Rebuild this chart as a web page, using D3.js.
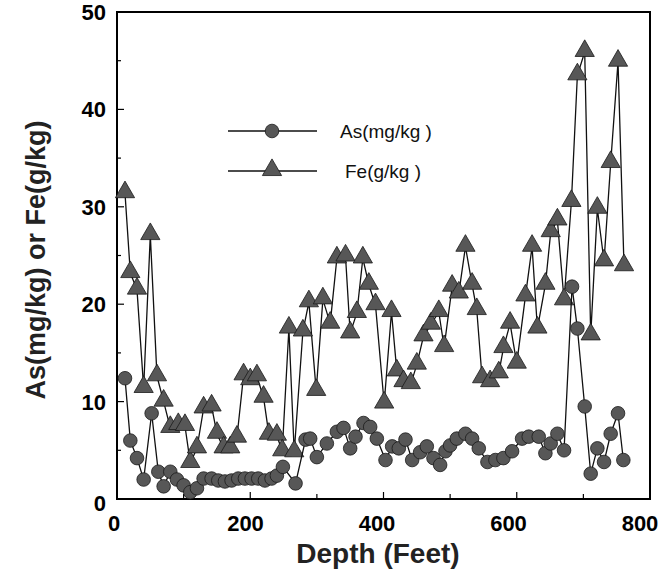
<!DOCTYPE html>
<html><head><meta charset="utf-8">
<script src="https://cdn.jsdelivr.net/npm/d3@7/dist/d3.min.js"></script>
<style>body{margin:0;background:#fff}svg{display:block}</style>
</head><body><svg id="c" width="659" height="575"></svg>
<script>
const feDepth = [12,20,30,40,50,60,70,80,92,102,110,120,130,142,150,160,170,180,190,200,210,220,228,240,248,258,266,279,288,299,309,320,330,343,350,360,369,378,388,401,412,420,430,441,450,460,471,483,491,503,513,523,533,540,548,560,573,580,590,600,613,623,631,643,651,661,671,682,691,702,711,721,731,741,752,761];
const feValues = [31.4,23.2,21.5,11.4,27.1,12.6,10.0,7.3,7.6,7.5,3.7,5.2,9.3,9.5,6.7,5.2,5.2,6.3,12.7,12.2,12.6,10.4,6.6,6.5,4.9,17.5,4.8,17.2,20.2,11.1,20.5,18.0,24.7,24.9,17.0,19.1,24.7,22.0,19.9,9.8,19.2,13.1,12.0,11.8,13.8,16.7,17.9,19.2,15.6,21.8,21.1,25.9,22.0,19.4,12.4,12.0,12.9,15.5,18.0,13.9,20.8,25.9,17.5,22.0,27.4,28.6,20.4,30.5,43.5,45.9,16.8,29.8,24.4,34.5,44.9,23.9];
const asDepth = [12,20,30,40,52,62,70,80,90,100,110,120,130,142,152,162,172,182,192,202,212,222,232,240,249,268,283,290,300,315,330,340,350,358,370,380,390,403,413,423,433,443,455,465,475,485,493,500,510,523,533,543,556,568,580,593,608,618,633,643,651,661,671,683,691,702,711,721,731,741,752,760];
const asValues = [12.4,6.0,4.2,2.0,8.8,2.8,1.3,2.8,2.0,1.4,0.7,1.1,2.1,2.1,1.9,1.8,1.9,2.1,2.1,2.1,2.1,1.9,2.1,2.4,3.3,1.6,6.1,6.2,4.3,5.7,6.9,7.3,5.2,6.4,7.8,7.4,6.2,4.0,5.4,5.2,6.1,4.0,4.8,5.4,4.2,3.5,4.9,5.5,6.2,6.7,6.2,5.2,3.8,4.0,4.2,4.9,6.2,6.4,6.4,4.7,5.7,6.7,5.0,21.8,17.5,9.5,2.6,5.2,3.8,6.7,8.8,4.0];
const xTicks = [0,200,400,600,800];
const yTicks = [0,10,20,30,40,50];
const legendLabels = ["As(mg/kg )","Fe(g/kg )"];
const xTitle = "Depth (Feet)";
const yTitle = "As(mg/kg) or Fe(g/kg)";

const svg = d3.select("#c");
const L=117, R=650, T=12, B=499;
const x = d3.scaleLinear().domain([0,800]).range([L,R]);
const y = d3.scaleLinear().domain([0,50]).range([B,T]);
const markFill = "#575757", markStroke = "#1a1a1a";
const font = "Liberation Sans, Arial, sans-serif";

// frame
svg.append("rect").attr("x",L).attr("y",T).attr("width",R-L).attr("height",B-T)
  .attr("fill","none").attr("stroke","#000").attr("stroke-width",2);

// ticks (inside)
const xt = d3.range(100,800,100);
svg.selectAll(".xt").data(xt).enter().append("line")
  .attr("x1",d=>x(d)).attr("x2",d=>x(d)).attr("y1",B).attr("y2",d=>B-(d%200===0?7:5))
  .attr("stroke","#000").attr("stroke-width",1.2);
const yt = d3.range(5,50,5);
svg.selectAll(".yt").data(yt).enter().append("line")
  .attr("y1",d=>y(d)).attr("y2",d=>y(d)).attr("x1",L).attr("x2",d=>L+(d%10===0?7:4))
  .attr("stroke","#000").attr("stroke-width",1.2);

// tick labels
svg.selectAll(".xl").data(xTicks).enter().append("text")
  .attr("x",d=>x(d)-3-7*d/800).attr("y",531).attr("text-anchor","middle")
  .attr("font-family",font).attr("font-weight","bold").attr("font-size",22)
  .text(d=>d);
svg.selectAll(".yl").data(yTicks).enter().append("text")
  .attr("x",106).attr("y",d=>y(d)+(d===0?12:8)).attr("text-anchor","end")
  .attr("font-family",font).attr("font-weight","bold").attr("font-size",22)
  .text(d=>d);

// titles
svg.append("text").attr("x",378).attr("y",563).attr("text-anchor","middle")
  .attr("font-family",font).attr("font-weight","bold").attr("font-size",28)
  .attr("fill","#222").text(xTitle);
svg.append("text").attr("transform","translate(45,260) rotate(-90)").attr("text-anchor","middle")
  .attr("font-family",font).attr("font-weight","bold").attr("font-size",27)
  .attr("fill","#222").text(yTitle);

const tri = d3.symbol().type(d3.symbolTriangle).size(160);
const feData = feDepth.map((d,i)=>({x:d,y:feValues[i]}));
const asData = asDepth.map((d,i)=>({x:d,y:asValues[i]}));
const line = d3.line().x(d=>x(d.x)).y(d=>y(d.y));

// Fe
svg.append("path").datum(feData).attr("d",line).attr("fill","none").attr("stroke","#111").attr("stroke-width",1.3);
svg.selectAll(".fe").data(feData).enter().append("path")
  .attr("d",tri).attr("transform",d=>`translate(${x(d.x)},${y(d.y)-1})`)
  .attr("fill",markFill).attr("stroke",markStroke).attr("stroke-width",0.8);
// As
svg.append("path").datum(asData).attr("d",line).attr("fill","none").attr("stroke","#111").attr("stroke-width",1.3);
svg.selectAll(".as").data(asData).enter().append("circle")
  .attr("cx",d=>x(d.x)).attr("cy",d=>y(d.y)).attr("r",6.8)
  .attr("fill",markFill).attr("stroke",markStroke).attr("stroke-width",0.8);

// legend
const lg = svg.append("g");
[0,1].forEach(i=>{
  const ly = 131 + i*40;
  lg.append("line").attr("x1",228).attr("x2",317).attr("y1",ly).attr("y2",ly).attr("stroke","#111").attr("stroke-width",1.3);
  if(i===0) lg.append("circle").attr("cx",272).attr("cy",ly).attr("r",6.8).attr("fill",markFill).attr("stroke",markStroke).attr("stroke-width",0.8);
  else lg.append("path").attr("d",tri).attr("transform",`translate(272,${ly-1})`).attr("fill",markFill).attr("stroke",markStroke).attr("stroke-width",0.8);
  lg.append("text").attr("x",i===0?340:345).attr("y",ly+7).attr("font-family",font)
    .attr("font-size",19).attr("fill","#111").text(legendLabels[i]);
});
</script></body></html>
